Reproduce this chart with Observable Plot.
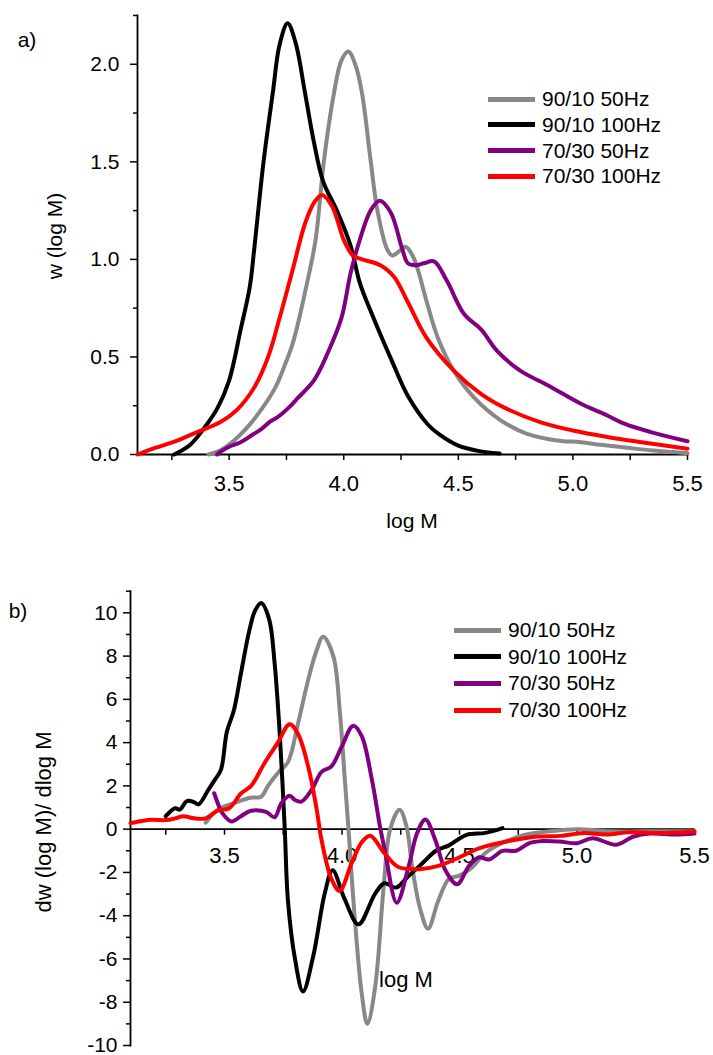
<!DOCTYPE html>
<html><head><meta charset="utf-8">
<script src="https://cdn.jsdelivr.net/npm/d3@7"></script>
<script src="https://cdn.jsdelivr.net/npm/@observablehq/plot@0.6"></script>
<style>
body{margin:0;background:#fff;font-family:"Liberation Sans",Arial,sans-serif;color:#000;}
#wrap{position:relative;width:713px;height:1055px;overflow:hidden;}
.panel{position:absolute;left:0;}
.lbl{position:absolute;white-space:nowrap;line-height:1;transform:translate(-50%,-50%);}
.rot{transform:translate(-50%,-50%) rotate(-90deg);}
.row{position:absolute;display:flex;align-items:center;height:24px;font-size:21px;white-space:nowrap;}
.row span.sw{display:inline-block;width:47px;height:5px;margin-right:7px;}
</style></head>
<body><div id="wrap"></div>
<script>
const seriesNames = ["90/10 50Hz", "90/10 100Hz", "70/30 50Hz", "70/30 100Hz"];
const seriesColors = ["#888888", "#000000", "#800080", "#ff0000"];
const xMajor = [3.5, 4.0, 4.5, 5.0, 5.5];
const xMinor = [3.25, 3.75, 4.25, 4.75, 5.25];
const aYMajor = [0, 0.5, 1.0, 1.5, 2.0];
const aYMinor = [0.25, 0.75, 1.25, 1.75, 2.25];
const bYMajor = [-10, -8, -6, -4, -2, 0, 2, 4, 6, 8, 10];
const bYMinor = [-9, -7, -5, -3, -1, 1, 3, 5, 7, 9, 11];

// panel a) w(log M) vs log M
const aGray = [[3.41,0],[3.46,0.02],[3.52,0.07],[3.58,0.14],[3.64,0.23],[3.70,0.34],[3.74,0.45],[3.78,0.58],[3.84,0.88],[3.877,1.10],[3.914,1.51],[3.957,1.85],[3.99,2.02],[4.02,2.065],[4.05,2.0],[4.08,1.85],[4.117,1.51],[4.147,1.25],[4.19,1.05],[4.212,1.02],[4.24,1.04],[4.27,1.065],[4.30,1.02],[4.32,0.96],[4.365,0.77],[4.41,0.60],[4.48,0.43],[4.57,0.29],[4.685,0.175],[4.80,0.106],[4.93,0.072],[5.035,0.063],[5.12,0.05],[5.22,0.037],[5.35,0.02],[5.5,0.007]];
const aBlack = [[3.26,0],[3.33,0.05],[3.40,0.15],[3.45,0.24],[3.50,0.38],[3.55,0.64],[3.59,0.86],[3.61,1.06],[3.65,1.50],[3.69,1.85],[3.72,2.10],[3.755,2.21],[3.79,2.11],[3.83,1.86],[3.87,1.60],[3.91,1.40],[3.97,1.25],[4.03,1.07],[4.07,0.88],[4.13,0.70],[4.21,0.48],[4.28,0.30],[4.37,0.15],[4.42,0.10],[4.50,0.045],[4.58,0.02],[4.68,0.005]];
const aPurple = [[3.448,0],[3.46,0.012],[3.50,0.04],[3.55,0.063],[3.60,0.10],[3.64,0.13],[3.68,0.17],[3.71,0.19],[3.76,0.24],[3.80,0.29],[3.87,0.38],[3.93,0.52],[3.99,0.70],[4.03,0.93],[4.07,1.10],[4.117,1.25],[4.157,1.30],[4.205,1.24],[4.256,1.05],[4.28,0.98],[4.314,0.97],[4.35,0.98],[4.394,0.99],[4.45,0.89],[4.525,0.72],[4.60,0.64],[4.67,0.53],[4.77,0.43],[4.89,0.355],[5.035,0.26],[5.15,0.20],[5.224,0.158],[5.34,0.115],[5.5,0.068]];
const aRed = [[3.10,0],[3.18,0.035],[3.27,0.07],[3.36,0.115],[3.46,0.165],[3.535,0.23],[3.61,0.345],[3.67,0.50],[3.72,0.70],[3.78,0.96],[3.83,1.18],[3.87,1.29],[3.906,1.33],[3.95,1.27],[4.0,1.10],[4.04,1.02],[4.08,1.00],[4.16,0.97],[4.22,0.91],[4.28,0.78],[4.36,0.60],[4.48,0.43],[4.60,0.31],[4.71,0.235],[4.86,0.165],[5.0,0.123],[5.15,0.09],[5.30,0.063],[5.5,0.03]];

// panel b) dw(log M)/dlog M vs log M
const bGray = [[3.42,0.3],[3.45,0.7],[3.48,0.95],[3.54,1.2],[3.61,1.45],[3.656,1.5],[3.685,2.0],[3.727,2.6],[3.77,3.1],[3.813,4.9],[3.856,6.9],[3.89,8.2],[3.92,8.9],[3.963,8.0],[3.991,5.4],[4.012,2.3],[4.027,0.1],[4.055,-4.2],[4.084,-7.6],[4.108,-9.0],[4.141,-7.3],[4.177,-2.7],[4.205,0],[4.245,0.9],[4.275,0.1],[4.298,-1.7],[4.333,-3.7],[4.366,-4.6],[4.41,-3.3],[4.455,-2.3],[4.50,-2.15],[4.55,-1.8],[4.61,-1.1],[4.68,-0.65],[4.78,-0.26],[4.88,-0.1],[5.0,0],[5.14,-0.1],[5.28,-0.1],[5.5,-0.1]];
const bBlack = [[3.25,0.6],[3.29,0.97],[3.31,0.9],[3.34,1.3],[3.37,1.25],[3.39,1.15],[3.43,1.8],[3.46,2.3],[3.485,2.75],[3.51,4.5],[3.54,5.5],[3.57,7.2],[3.606,9.2],[3.63,10.1],[3.656,10.45],[3.69,9.7],[3.713,7.7],[3.734,4.6],[3.756,0.1],[3.77,-3.3],[3.80,-6.0],[3.834,-7.5],[3.877,-5.9],[3.927,-2.95],[3.96,-1.9],[4.01,-3.2],[4.07,-4.4],[4.14,-3.0],[4.18,-2.5],[4.23,-2.7],[4.28,-2.2],[4.34,-1.6],[4.40,-1.0],[4.455,-0.75],[4.53,-0.26],[4.61,-0.17],[4.683,0.05]];
const bPurple = [[3.456,1.66],[3.475,1.1],[3.49,0.75],[3.53,0.35],[3.57,0.6],[3.613,0.85],[3.677,0.8],[3.713,0.55],[3.742,1.2],[3.777,1.55],[3.80,1.35],[3.827,1.27],[3.87,1.8],[3.913,2.65],[3.955,2.9],[3.998,3.8],[4.048,4.78],[4.084,4.3],[4.127,2.3],[4.162,0.1],[4.183,-1.0],[4.233,-3.4],[4.284,-1.7],[4.319,-0.2],[4.355,0.45],[4.397,-0.5],[4.44,-1.9],[4.49,-2.55],[4.54,-1.7],[4.583,-1.3],[4.626,-1.4],[4.683,-1.0],[4.74,-1.0],[4.797,-0.65],[4.854,-0.55],[4.925,-0.57],[5.0,-0.65],[5.067,-0.42],[5.167,-0.72],[5.238,-0.35],[5.31,-0.2],[5.42,-0.25],[5.5,-0.2]];
const bRed = [[3.1,0.28],[3.15,0.38],[3.19,0.43],[3.25,0.42],[3.29,0.5],[3.325,0.6],[3.37,0.5],[3.42,0.5],[3.47,0.85],[3.52,0.97],[3.57,1.65],[3.613,2.0],[3.67,3.05],[3.727,4.0],[3.777,4.85],[3.813,4.4],[3.856,2.9],[3.891,1.0],[3.913,-0.5],[3.955,-2.3],[3.99,-2.85],[4.04,-1.6],[4.084,-0.6],[4.12,-0.3],[4.18,-1.1],[4.24,-1.75],[4.33,-1.85],[4.41,-1.7],[4.50,-1.3],[4.58,-0.9],[4.71,-0.55],[4.83,-0.34],[4.93,-0.31],[5.03,-0.18],[5.125,-0.25],[5.22,-0.14],[5.35,-0.18],[5.5,-0.11]];

function rows(list) {
  return list.flatMap((pts, i) => pts.map(([x, y]) => ({series: seriesNames[i], x, y})));
}
const dataA = rows([aGray, aBlack, aPurple, aRed]);
const dataB = rows([bGray, bBlack, bPurple, bRed]);

const font = "'Liberation Sans', Arial, sans-serif";
const fmt1 = d3.format(".1f");
const W = 713;

const plotA = Plot.plot({
  width: W, height: 540,
  marginLeft: 137, marginRight: 26, marginTop: 15, marginBottom: 86,
  style: {fontFamily: font, color: "#000", background: "transparent", overflow: "visible"},
  x: {domain: [3.1, 5.5]},
  y: {domain: [0, 2.25]},
  color: {domain: seriesNames, range: seriesColors},
  marks: [
    Plot.axisX({ticks: xMajor, tickSize: 6, tickPadding: 15, tickFormat: fmt1, label: null, fontSize: 22, strokeWidth: 1.5}),
    Plot.axisX({ticks: xMinor, tickSize: 6, tickFormat: () => "", label: null, strokeWidth: 1.5}),
    Plot.axisY({ticks: aYMajor, tickSize: 7, tickPadding: 11, tickFormat: fmt1, label: null, fontSize: 21, strokeWidth: 1.5}),
    Plot.axisY({ticks: aYMinor, tickSize: 4, tickFormat: () => "", label: null, strokeWidth: 1.5}),
    Plot.frame({anchor: "left", strokeWidth: 1.8}),
    Plot.frame({anchor: "bottom", strokeWidth: 1.8}),
    Plot.line(dataA, {x: "x", y: "y", z: "series", stroke: "series", strokeWidth: 4, curve: "catmull-rom"})
  ]
});

const plotB = Plot.plot({
  width: W, height: 513,
  marginLeft: 130, marginRight: 19, marginTop: 50.7, marginBottom: 8,
  style: {fontFamily: font, color: "#000", background: "transparent", overflow: "visible"},
  x: {domain: [3.1, 5.5]},
  y: {domain: [-10, 11]},
  color: {domain: seriesNames, range: seriesColors},
  marks: [
    Plot.axisX({ticks: xMajor, tickSize: 6, tickPadding: 12, tickFormat: fmt1, label: null, fontSize: 22, strokeWidth: 1.5}),
    Plot.axisX({ticks: xMinor, tickSize: 6, tickFormat: () => "", label: null, strokeWidth: 1.5}),
    Plot.axisY({ticks: bYMajor, tickSize: 7, tickPadding: 6, tickFormat: d => String(d), label: null, fontSize: 21, strokeWidth: 1.5}),
    Plot.axisY({ticks: bYMinor, tickSize: 4, tickFormat: () => "", label: null, strokeWidth: 1.5}),
    Plot.frame({anchor: "left", strokeWidth: 1.8}),
    Plot.ruleY([0], {strokeWidth: 1.8}),
    Plot.line(dataB, {x: "x", y: "y", z: "series", stroke: "series", strokeWidth: 4, curve: "catmull-rom"})
  ]
});

// move panel b's x axis so it sits on y = 0
const y0 = plotB.scale("y").apply(0);
const yBottom = plotB.scale("y").range[0];
plotB.querySelectorAll('g[aria-label^="x-axis"]').forEach(g => {
  g.setAttribute("transform", `translate(0,${y0 - yBottom}) ` + (g.getAttribute("transform") || ""));
});

const wrap = document.getElementById("wrap");
plotA.classList.add("panel"); plotA.style.top = "0px";
plotB.classList.add("panel"); plotB.style.top = "540px";
wrap.appendChild(plotA);
wrap.appendChild(plotB);

function label(text, x, y, size, rot) {
  const d = document.createElement("div");
  d.className = "lbl" + (rot ? " rot" : "");
  d.textContent = text;
  d.style.left = x + "px"; d.style.top = y + "px"; d.style.fontSize = size + "px";
  wrap.appendChild(d);
}
label("a)", 27, 39, 21);
label("b)", 18, 610, 21);
label("w (log M)", 54, 236, 21, true);
label("log M", 412, 520, 21);
label("dw (log M)/ dlog M", 44, 822, 22, true);
label("log M", 406, 980, 22);

function legend(x, yTop, step) {
  seriesNames.forEach((name, i) => {
    const r = document.createElement("div");
    r.className = "row";
    r.style.left = x + "px";
    r.style.top = (yTop + i * step - 12) + "px";
    const sw = document.createElement("span");
    sw.className = "sw"; sw.style.background = seriesColors[i];
    const t = document.createElement("span");
    t.textContent = name;
    r.appendChild(sw); r.appendChild(t);
    wrap.appendChild(r);
  });
}
legend(488, 99, 25.8);
legend(454, 630, 26.7);
</script>
</body></html>
